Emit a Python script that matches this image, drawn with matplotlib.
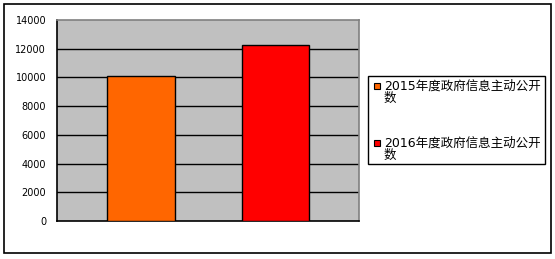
import matplotlib
matplotlib.use('Agg')
import matplotlib.pyplot as plt
from matplotlib.patches import Rectangle

# data
series = ['2015年度政府信息主动公开\n数', '2016年度政府信息主动公开\n数']
values = [10070, 12240]
colors = ['#FF6600', '#FF0000']
yticks = [0, 2000, 4000, 6000, 8000, 10000, 12000, 14000]

plt.rcParams['font.family'] = ['DejaVu Sans', 'Noto Sans CJK SC']

W, H = 555, 259
fig = plt.figure(figsize=(W / 100, H / 100), dpi=100)
fig.patch.set_facecolor('white')


def px(x, y):
    # pixel position (from top-left) -> figure fraction
    return x / W, 1 - y / H


# outer chart border
fig.add_artist(Rectangle(px(4, 253), 547 / W, 249 / H, transform=fig.transFigure,
                         fill=False, edgecolor='black', linewidth=1.2))

ax = fig.add_axes([57.3 / W, 1 - 221 / H, 302 / W, 201 / H])
ax.set_facecolor('#C0C0C0')

x = list(range(len(values)))
ax.bar(x, values, width=0.5, color=colors, edgecolor='black', linewidth=1, zorder=3)

ax.set_xlim(-0.62, 1.62)
ax.set_ylim(0, 14000)
ax.set_yticks(yticks)
ax.set_yticklabels([str(v) for v in yticks], fontsize=7)
ax.tick_params(axis='y', length=0, pad=8)
ax.set_xticks([])
for v in yticks[1:-1]:
    ax.axhline(v, color='black', linewidth=1, zorder=2)

ax.spines['left'].set_color('black')
ax.spines['bottom'].set_color('black')
ax.spines['top'].set_color('#808080')
ax.spines['right'].set_color('#808080')
for s in ax.spines.values():
    s.set_linewidth(1.2)

# legend box, drawn by hand so the swatch sits on the first line
fig.add_artist(Rectangle(px(368, 164), 177 / W, 88 / H, transform=fig.transFigure,
                         fill=False, edgecolor='black', linewidth=1))
entry_top = [86, 143]
for lab, c, yc in zip(series, colors, entry_top):
    fig.add_artist(Rectangle(px(373.5, yc + 3.3), 6.7 / W, 6.7 / H,
                             transform=fig.transFigure, facecolor=c,
                             edgecolor='black', linewidth=0.8))
    for i, line in enumerate(lab.split('\n')):
        fig.text(*px(384, yc + 12.5 * i), line, fontsize=9, va='center', ha='left')

fig.savefig('out.png', dpi=100)
